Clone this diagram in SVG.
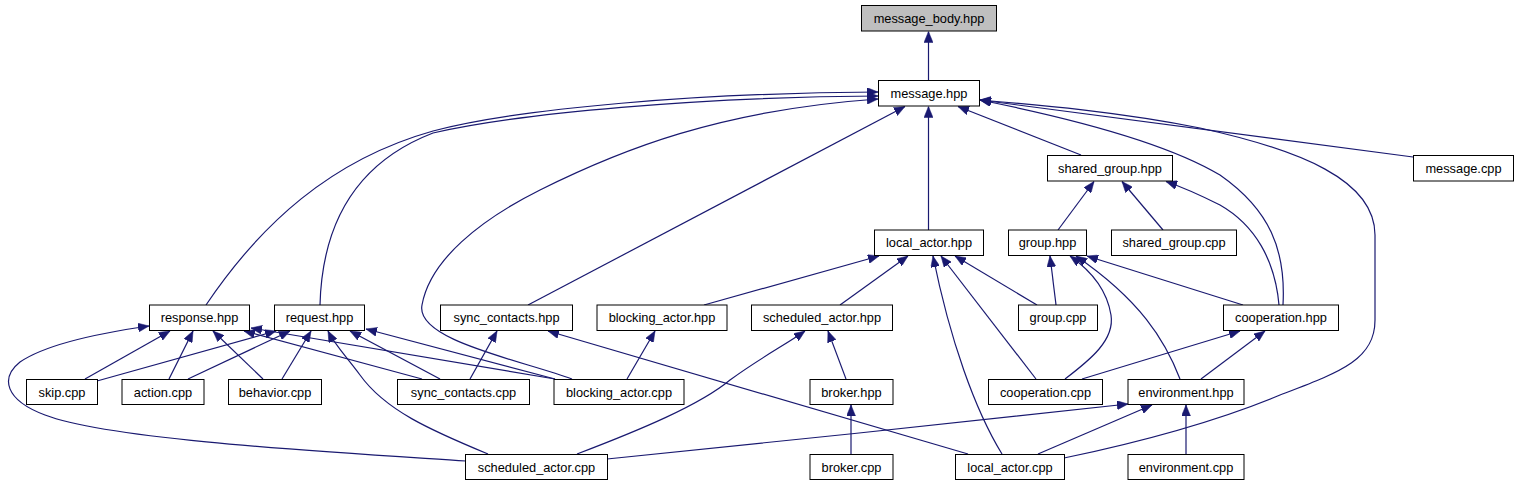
<svg xmlns="http://www.w3.org/2000/svg" width="1519" height="485" viewBox="0 0 1519 485">
<defs>
<style>
.n rect{fill:#fff;stroke:#000;stroke-width:1}
.n.root rect{fill:#bfbfbf}
.n text{font-family:"Liberation Sans",Arial,sans-serif;font-size:12.8px;fill:#000;text-anchor:middle}
#edges path{fill:none;stroke:#191970;stroke-width:1.2;marker-end:url(#ah)}
</style>
<marker id="ah" markerUnits="userSpaceOnUse" viewBox="0 0 11 9" markerWidth="11" markerHeight="9" refX="11" refY="4.5" orient="auto">
<path d="M0,0 L11,4.5 L0,9 z" fill="#191970" stroke="#191970" stroke-width="0.5"/>
</marker>
</defs>
<rect width="1519" height="485" fill="#fff"/>
<g id="edges">
<path d="M928.5,80.5 L928.5,31.5"/>
<path d="M206,305 C260,225 330,160 433,131 C520,108 700,93 878,92"/>
<path d="M320,305 C322,230 350,165 433,133 C520,113 700,97 878,96"/>
<path d="M572,379 C520,360 415,340 422,305 C430,260 480,220 540,190 C620,150 720,110 878,99"/>
<path d="M528,305 L905,106.5"/>
<path d="M928.5,230 L928.5,106.5"/>
<path d="M1081,155 L958,106.5"/>
<path d="M1283,305 C1286,250 1270,210 1220,175 C1170,145 1080,120 980,100"/>
<path d="M1064,458 C1150,440 1220,420 1280,395 C1340,372 1375,360 1375,320 L1375,235 C1375,180 1300,150 1200,128 C1120,112 1040,105 980,100"/>
<path d="M1413,157 L980,100"/>
<path d="M1058,230 L1094,181.5"/>
<path d="M1163,230 L1122,181.5"/>
<path d="M1279,305 C1275,260 1255,225 1220,205 C1200,195 1185,188 1166,181.5"/>
<path d="M704,305 L879,256"/>
<path d="M840,305 L908,256"/>
<path d="M1037,305 L955,256"/>
<path d="M1002,454 C975,410 950,340 933,256"/>
<path d="M1036,379 L941,256"/>
<path d="M1056,305 L1050,256"/>
<path d="M1065,379 C1090,360 1115,340 1111,315 C1107,290 1090,270 1070,256"/>
<path d="M1180,379 C1165,340 1140,300 1076,256"/>
<path d="M1243,305 L1087,256"/>
<path d="M1082,379 L1240,331"/>
<path d="M1201,379 L1265,331"/>
<path d="M607,459 C750,445 1000,418 1128,404"/>
<path d="M1038,454 L1152,405"/>
<path d="M1186,454 L1186,405"/>
<path d="M851,454 L851,405"/>
<path d="M846,379 L828,331"/>
<path d="M577,454 C640,430 700,405 730,380 C760,358 785,345 805,331"/>
<path d="M627,379 L655,331"/>
<path d="M968,454 L548,331"/>
<path d="M470,379 L497,331"/>
<path d="M466,461 C330,452 110,440 45,415 C5,400 0,378 20,362 C45,345 100,333 149,326"/>
<path d="M85,379 L170,331"/>
<path d="M169,379 L193,331"/>
<path d="M263,379 L213,331"/>
<path d="M422,379 L244,331"/>
<path d="M555,379 L251,328"/>
<path d="M97,381 L276,331"/>
<path d="M188,379 L290,331"/>
<path d="M282,379 L311,331"/>
<path d="M488,454 C430,430 385,410 360,375 C345,355 335,345 328,331"/>
<path d="M440,379 L350,331"/>
<path d="M555,379 L366,329"/>
</g>
<g id="n_message_body_hpp" class="n root"><rect x="861.5" y="5.5" width="135" height="25.5"/><text x="929" y="22.5">message_body.hpp</text></g>
<g id="n_message_hpp" class="n"><rect x="878.5" y="80.5" width="101" height="25.5"/><text x="929" y="97.5">message.hpp</text></g>
<g id="n_shared_group_hpp" class="n"><rect x="1047.5" y="155.5" width="125" height="25.5"/><text x="1110" y="172.5">shared_group.hpp</text></g>
<g id="n_message_cpp" class="n"><rect x="1413.5" y="155.5" width="100" height="25.5"/><text x="1463.5" y="172.5">message.cpp</text></g>
<g id="n_local_actor_hpp" class="n"><rect x="874.5" y="230" width="109" height="25.5"/><text x="929" y="247">local_actor.hpp</text></g>
<g id="n_group_hpp" class="n"><rect x="1008.5" y="230" width="78" height="25.5"/><text x="1047.5" y="247">group.hpp</text></g>
<g id="n_shared_group_cpp" class="n"><rect x="1111.5" y="230" width="125" height="25.5"/><text x="1174" y="247">shared_group.cpp</text></g>
<g id="n_response_hpp" class="n"><rect x="149.5" y="305" width="100" height="25.5"/><text x="199.5" y="322">response.hpp</text></g>
<g id="n_request_hpp" class="n"><rect x="274.5" y="305" width="90" height="25.5"/><text x="319.5" y="322">request.hpp</text></g>
<g id="n_sync_contacts_hpp" class="n"><rect x="440.5" y="305" width="132" height="25.5"/><text x="506.5" y="322">sync_contacts.hpp</text></g>
<g id="n_blocking_actor_hpp" class="n"><rect x="597" y="305" width="130" height="25.5"/><text x="662" y="322">blocking_actor.hpp</text></g>
<g id="n_scheduled_actor_hpp" class="n"><rect x="751.5" y="305" width="141" height="25.5"/><text x="822" y="322">scheduled_actor.hpp</text></g>
<g id="n_group_cpp" class="n"><rect x="1018.5" y="305" width="79" height="25.5"/><text x="1058" y="322">group.cpp</text></g>
<g id="n_cooperation_hpp" class="n"><rect x="1223.5" y="305" width="115" height="25.5"/><text x="1281" y="322">cooperation.hpp</text></g>
<g id="n_skip_cpp" class="n"><rect x="26.5" y="379.5" width="71" height="25"/><text x="62" y="396.5">skip.cpp</text></g>
<g id="n_action_cpp" class="n"><rect x="122" y="379.5" width="82" height="25"/><text x="163" y="396.5">action.cpp</text></g>
<g id="n_behavior_cpp" class="n"><rect x="228.5" y="379.5" width="93" height="25"/><text x="275" y="396.5">behavior.cpp</text></g>
<g id="n_sync_contacts_cpp" class="n"><rect x="397.5" y="379.5" width="132" height="25"/><text x="463.5" y="396.5">sync_contacts.cpp</text></g>
<g id="n_blocking_actor_cpp" class="n"><rect x="554" y="379.5" width="130" height="25"/><text x="619" y="396.5">blocking_actor.cpp</text></g>
<g id="n_broker_hpp" class="n"><rect x="810" y="379.5" width="83" height="25"/><text x="851.5" y="396.5">broker.hpp</text></g>
<g id="n_cooperation_cpp" class="n"><rect x="988.5" y="379.5" width="114" height="25"/><text x="1045.5" y="396.5">cooperation.cpp</text></g>
<g id="n_environment_hpp" class="n"><rect x="1128" y="379.5" width="116" height="25"/><text x="1186" y="396.5">environment.hpp</text></g>
<g id="n_scheduled_actor_cpp" class="n"><rect x="465.5" y="454.5" width="142" height="25"/><text x="536.5" y="471.5">scheduled_actor.cpp</text></g>
<g id="n_broker_cpp" class="n"><rect x="810" y="454.5" width="83" height="25"/><text x="851.5" y="471.5">broker.cpp</text></g>
<g id="n_local_actor_cpp" class="n"><rect x="955.5" y="454.5" width="109" height="25"/><text x="1010" y="471.5">local_actor.cpp</text></g>
<g id="n_environment_cpp" class="n"><rect x="1128" y="454.5" width="116" height="25"/><text x="1186" y="471.5">environment.cpp</text></g>
</svg>
